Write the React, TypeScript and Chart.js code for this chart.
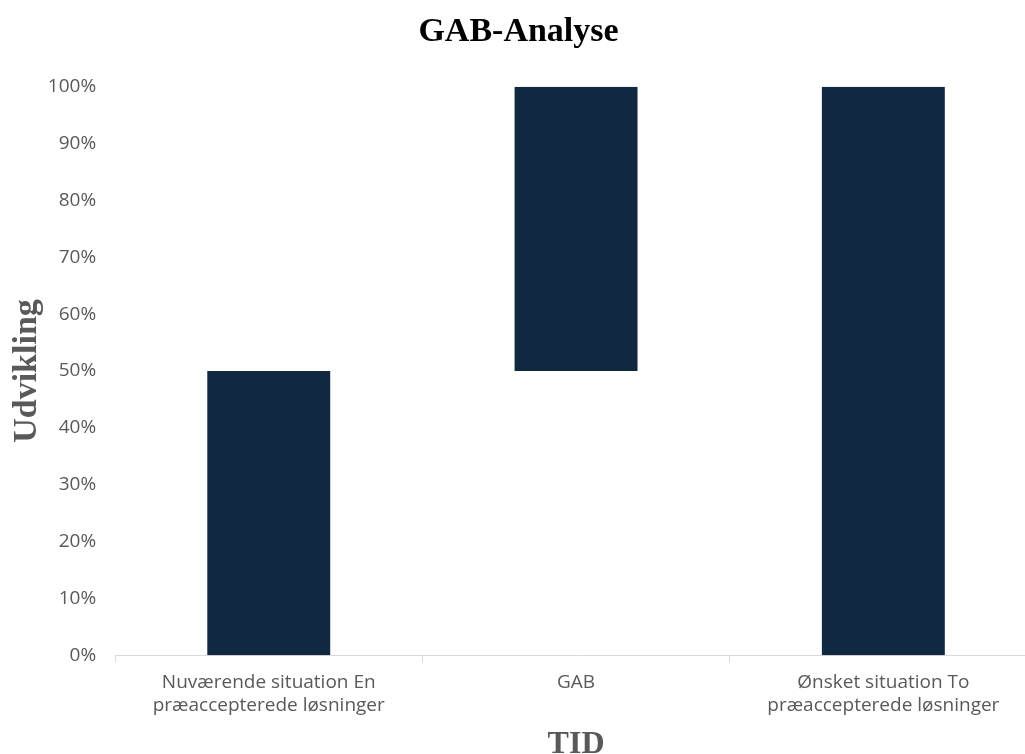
import { useEffect, useRef } from "react";
import { Chart, registerables } from "chart.js";

Chart.register(...registerables);

// Categories along the time axis (multi-line labels)
const categories: (string | string[])[] = [
  ["Nuværende situation En", "præaccepterede løsninger"],
  "GAB",
  ["Ønsket situation To", "præaccepterede løsninger"],
];

// Floating bars: each bar spans from its start to its end value (in %)
const barStarts = [0, 50, 0];
const barEnds = [50, 100, 100];

const yMin = 0;
const yMax = 100;
const yStep = 10;

const chartTitle = "GAB-Analyse";
const xTitle = "TID";
const yTitle = "Udvikling";

const CANVAS_W = 1045;
const CANVAS_H = 764;
const Y_TICK_PADDING = 19;

export default function App() {
  const canvasRef = useRef<HTMLCanvasElement | null>(null);

  useEffect(() => {
    const canvas = canvasRef.current;
    if (!canvas) return;
    const data = barStarts.map((s, i) => [s, barEnds[i]]);
    const chart = new Chart(canvas, {
      type: "bar",
      data: {
        labels: categories,
        datasets: [
          {
            data: data as any,
            backgroundColor: "#112841",
            borderWidth: 0,
            barPercentage: 0.4,
            categoryPercentage: 1,
          },
        ],
      },
      options: {
        responsive: false,
        animation: false,
        devicePixelRatio: 1,
        layout: { padding: { left: 0, right: 8, top: 0, bottom: 1 } },
        plugins: {
          legend: { display: false },
          tooltip: { enabled: false },
          title: {
            display: true,
            text: chartTitle,
            color: "#000000",
            font: { family: "'Liberation Serif', 'Times New Roman', serif", size: 34, weight: "bold", lineHeight: 1.2 },
            padding: { top: 12, bottom: 34 },
          },
        },
        scales: {
          x: {
            grid: {
              display: true,
              drawOnChartArea: false,
              drawTicks: true,
              tickLength: 7,
              color: "#d9d9d9",
              offset: true,
            },
            border: { display: true, color: "#d9d9d9", width: 1 },
            ticks: {
              color: "#595959",
              padding: 9,
              maxRotation: 0,
              autoSkip: false,
              font: { family: "'Open Sans', sans-serif", size: 19, lineHeight: 1.21 },
            },
            title: {
              display: true,
              text: xTitle,
              color: "#595959",
              font: { family: "'Liberation Serif', 'Times New Roman', serif", size: 32, weight: "bold", lineHeight: 1.15 },
              padding: { top: 0, bottom: 0 },
            },
            afterFit: (scale: any) => {
              scale.paddingLeft = 0;
              scale.paddingRight = 0;
            },
          },
          y: {
            min: yMin,
            max: yMax,
            grid: { display: false, drawTicks: false },
            border: { display: false },
            ticks: {
              stepSize: yStep,
              color: "#595959",
              padding: Y_TICK_PADDING,
              font: { family: "'Open Sans', sans-serif", size: 19, lineHeight: 1.2 },
              callback: (v) => `${v}%`,
            },
            title: {
              display: true,
              text: yTitle,
              color: "#595959",
              font: { family: "'Liberation Serif', 'Times New Roman', serif", size: 34, weight: "bold", lineHeight: 1.2 },
              padding: { top: 7, bottom: 0 },
            },
            // the tick padding is reserved on both sides of the labels; keep only the inner gap
            afterFit: (scale: any) => {
              scale.width -= Y_TICK_PADDING;
            },
          },
        },
      },
    });
    return () => chart.destroy();
  }, []);

  return (
    <div
      style={{
        position: "fixed",
        left: 0,
        top: 0,
        width: 1025,
        height: 754,
        overflow: "hidden",
        background: "#ffffff",
      }}
    >
      <canvas ref={canvasRef} width={CANVAS_W} height={CANVAS_H} style={{ display: "block" }} />
    </div>
  );
}
